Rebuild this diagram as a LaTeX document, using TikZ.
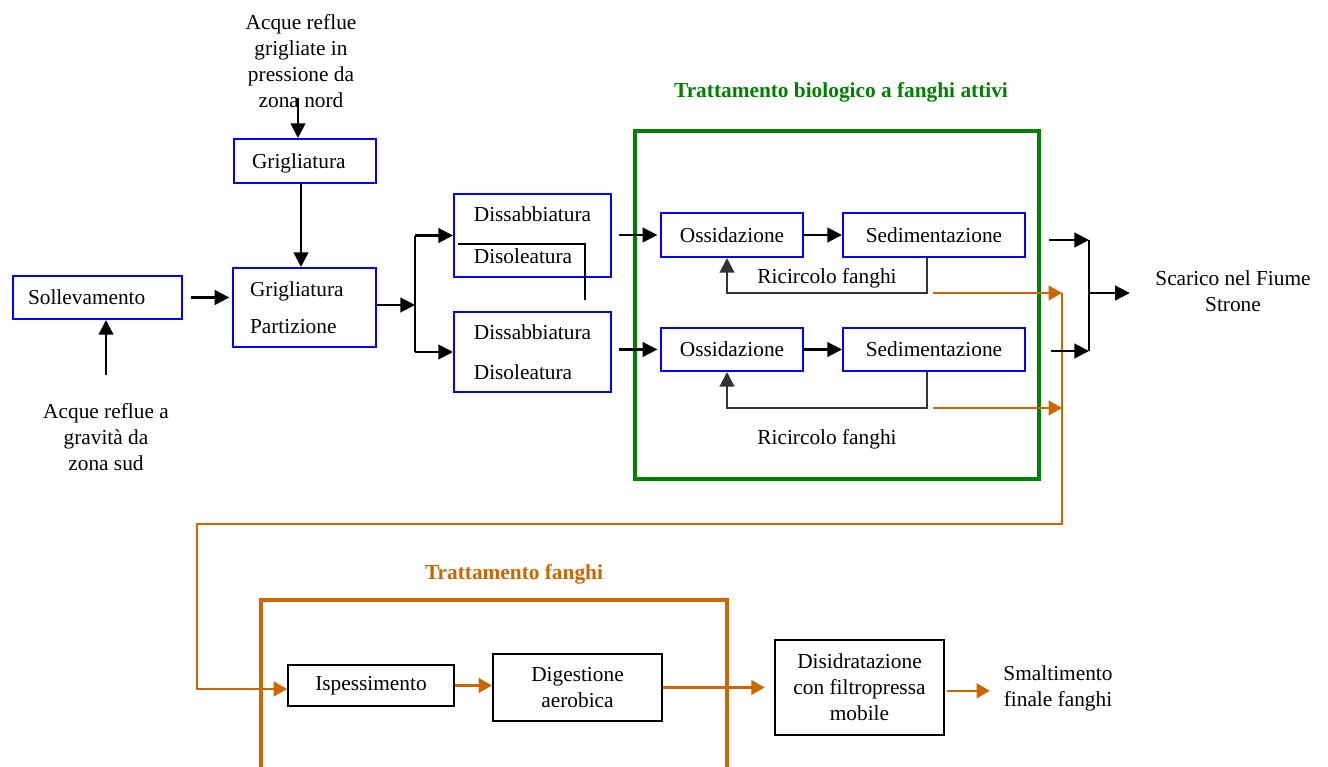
\documentclass[tikz,border=0pt]{standalone}
\usepackage{fontspec}
\setmainfont{Liberation Serif}
\usetikzlibrary{arrows.meta}
\definecolor{bluebox}{RGB}{0,0,255}
\definecolor{biogreen}{RGB}{0,128,0}
\definecolor{sludge}{RGB}{204,102,0}
\definecolor{recgray}{RGB}{51,51,51}
\begin{document}
\begin{tikzpicture}[x=0.75pt, y=-0.75pt,
  font=\fontsize{16}{19.5}\selectfont,
  sz/.style 2 args={minimum width=#1*0.75pt, minimum height=#2*0.75pt},
  box/.style={draw=bluebox, line width=1.5pt, inner sep=0pt},
  bbox/.style={draw=black, line width=1.5pt, inner sep=0pt},
  ln/.style={line width=1.6pt},
  arr/.style={line width=1.6pt, -{Triangle[length=11pt,width=11pt]}},
  oarr/.style={draw=sludge, line width=1.6pt, -{Triangle[length=10pt,width=11pt]}},
  garr/.style={draw=recgray, line width=1.6pt, -{Triangle[length=11pt,width=11pt]}},
  txt/.style={align=center, inner sep=2pt}]
\useasboundingbox (0,0) rectangle (1328,767);

% frames
\node[draw=biogreen, line width=2.3pt, sz={404}{348}] (bio) at (837,305) {};
\node[txt, text=biogreen, font=\fontsize{16}{19.5}\selectfont\bfseries] (biot) at (841,92) {Trattamento biologico a fanghi attivi};
\coordinate (f1) at (261,770);
\coordinate (f2) at (261,600);
\coordinate (f3) at (727,600);
\coordinate (f4) at (727,770);
\draw[sludge, line width=2.3pt] (f1) -- (f2) -- (f3) -- (f4);
\node[txt, text=sludge, font=\fontsize{16}{19.5}\selectfont\bfseries] (fant) at (514,574) {Trattamento fanghi};

% texts
\node[txt] (nord) at (301,61) {Acque reflue\\grigliate in\\pressione da\\zona nord};
\node[txt] (sud) at (106,437) {Acque reflue a\\gravità da\\zona sud};
\node[txt] (scarico) at (1233,291) {Scarico nel Fiume\\Strone};
\node[txt] (smalt) at (1058,688.5) {Smaltimento\\finale fanghi};
\node[txt] (ric1) at (827,278) {Ricircolo fanghi};
\node[txt] (ric2) at (827,439) {Ricircolo fanghi};

% boxes
\node[box, text width=104.25pt, inner xsep=11.25pt, align=left, text depth=0pt, minimum height=43*0.75pt] (soll) at (97.5,297.5) {Sollevamento};
\node[box, text width=79.5pt, inner xsep=13.5pt, align=left, text depth=0pt, minimum height=44*0.75pt] (grig) at (305,161) {Grigliatura};
\node[box, text width=81.75pt, inner xsep=12.75pt, align=left, minimum height=79*0.75pt] (grigpart) at (304.5,307.5) {Grigliatura\\[8.25pt]Partizione};
\node[box, sz={157}{83}, align=left] (diss1) at (532.5,235.5) {Dissabbiatura\\[12pt]Disoleatura};
\node[box, sz={157}{80}, align=left] (diss2) at (532.5,352) {Dissabbiatura\\[10.5pt]Disoleatura};
\node[box, sz={142}{44}] (oss1) at (732,235) {Ossidazione};
\node[box, sz={182}{44}] (sed1) at (934,235) {Sedimentazione};
\node[box, sz={142}{43}] (oss2) at (732,349.5) {Ossidazione};
\node[box, sz={182}{43}] (sed2) at (934,349.5) {Sedimentazione};
\node[bbox, sz={166}{41}] (isp) at (371,685.5) {Ispessimento};
\node[bbox, sz={169}{67}, align=center] (dig) at (577.5,687.5) {Digestione\\aerobica};
\node[bbox, sz={169}{95}, align=center] (disid) at (859.5,687.5) {Disidratazione\\con filtropressa\\mobile};

% inflows
\coordinate (nIn) at (298,98);
\draw[arr] (nIn) -- (nIn |- grig.north);
\draw[arr] ([xshift=-3pt]grig.south) -- ([xshift=-3pt]grig.south |- grigpart.north);
\coordinate (sIn) at (106,375);
\draw[arr] (sIn) -- (sIn |- soll.south);
\draw[arr, shorten <=6pt, shorten >=2pt] (soll.east) -- (soll.east -| grigpart.west);

% split
\coordinate (split) at (415,305);
\draw[arr] (grigpart.east |- split) -- (split);
\draw[ln] (split |- diss1.west) -- (split |- diss2.west);
\draw[arr] (split |- diss1.west) -- (diss1.west);
\draw[arr] (split |- diss2.west) -- (diss2.west);
\coordinate (st1) at (458,244);
\coordinate (st2) at (585,300);
\draw[line width=1.4pt] (st1) -| (st2);

% biological lines
\draw[arr, shorten <=5pt, shorten >=2pt] (diss1.east |- oss1.west) -- (oss1.west);
\draw[arr, shorten <=5pt, shorten >=2pt] (diss2.east |- oss2.west) -- (oss2.west);
\draw[arr] (oss1.east) -- (sed1.west);
\draw[arr] (oss2.east) -- (sed2.west);
\coordinate (r1) at (927,293);
\coordinate (r1l) at (727,293);
\draw[garr] (r1 |- sed1.south) -- (r1) -- (r1l) -- (r1l |- oss1.south);
\coordinate (r2) at (927,408);
\coordinate (r2l) at (727,408);
\draw[garr] (r2 |- sed2.south) -- (r2) -- (r2l) -- (r2l |- oss2.south);

% sludge lines
\coordinate (o1s) at (933,293);
\coordinate (o1e) at (1062,293);
\coordinate (o2s) at (933,408);
\coordinate (o2e) at (1062,408);
\draw[oarr] (o1s) -- (o1e);
\draw[oarr] (o2s) -- (o2e);
\coordinate (oc1) at (1062,524);
\coordinate (oc2) at (197,524);
\coordinate (oc3) at (197,689);
\draw[oarr] (o1e) -- (oc1) -- (oc2) -- (oc3) -- (oc3 -| isp.west);
\draw[oarr] (isp.east) -- (isp.east -| dig.west);
\draw[oarr, shorten >=7pt] (dig.east) -- (dig.east -| disid.west);
\draw[oarr, shorten <=1.5pt, shorten >=8pt] ([yshift=-2.5pt]disid.east) -- ([yshift=-2.5pt]disid.east -| smalt.west);

% discharge
\coordinate (e1s) at (1049,240);
\coordinate (e1e) at (1089,240);
\coordinate (e2s) at (1051,351);
\coordinate (e2e) at (1089,351);
\coordinate (em) at (1089,293);
\draw[arr] (e1s) -- (e1e);
\draw[arr] (e2s) -- (e2e);
\draw[ln] (e1e) -- (e2e);
\draw[arr, shorten >=17pt] (em) -- (em -| scarico.west);
\end{tikzpicture}
\end{document}
